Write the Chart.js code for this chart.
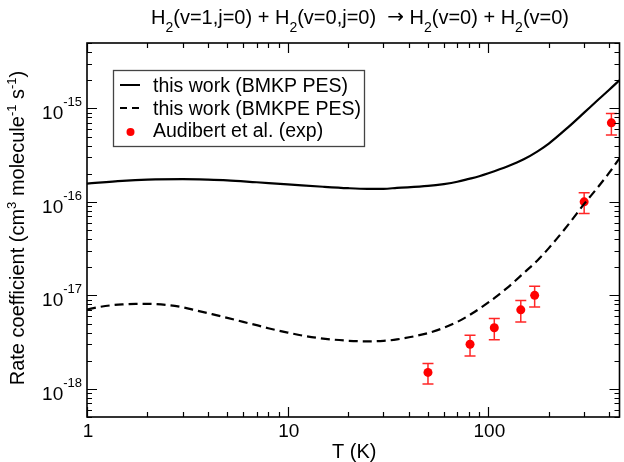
<!DOCTYPE html>
<html>
<head>
<meta charset="utf-8">
<script src="https://cdn.jsdelivr.net/npm/chart.js@4.4.1/dist/chart.umd.min.js"></script>
<style>
  body { margin: 0; background: #fff; }
  canvas { display: block; }
</style>
</head>
<body>
<canvas id="myChart" width="624" height="462"></canvas>
<script>
// Temperatures (K) and rate coefficients
var bmkpT = [1, 1.5, 2, 3, 4, 5, 7, 10, 15, 20, 25, 30, 35, 50, 60, 70, 80, 90, 100, 125, 150, 175, 200, 250, 300, 350, 400, 450];
var bmkpK = [1.57e-16, 1.68e-16, 1.73e-16, 1.75e-16, 1.73e-16, 1.70e-16, 1.62e-16, 1.54e-16, 1.45e-16, 1.40e-16, 1.38e-16, 1.38e-16, 1.41e-16,
             1.48e-16, 1.55e-16, 1.64e-16, 1.76e-16, 1.88e-16, 2.02e-16, 2.4e-16, 2.85e-16, 3.45e-16, 4.2e-16, 6.3e-16, 9.0e-16, 1.22e-15, 1.58e-15, 2.0e-15];

var bmkpeT = [1, 1.15, 1.3, 1.5, 1.75, 2, 2.5, 3, 3.5, 4, 5, 6, 7, 8, 10, 12, 15, 20, 25, 30, 35, 50, 60, 70, 80, 100, 125, 150, 175, 200, 250, 300, 350, 400, 450];
var bmkpeK = [7.05e-18, 7.5e-18, 7.8e-18, 8.0e-18, 8.1e-18, 8.1e-18, 7.9e-18, 7.45e-18, 6.9e-18, 6.45e-18, 5.75e-18, 5.2e-18, 4.8e-18, 4.45e-18, 4.0e-18,
              3.7e-18, 3.45e-18, 3.27e-18, 3.22e-18, 3.26e-18, 3.38e-18, 3.95e-18, 4.5e-18, 5.2e-18, 6.1e-18, 8.4e-18, 1.22e-17, 1.73e-17, 2.35e-17,
              3.2e-17, 5.7e-17, 9.5e-17, 1.42e-16, 2.05e-16, 2.92e-16];

// Experimental points (Audibert et al.) with their error bars
var expT = [50, 81, 107, 145, 170, 300, 410];
var expK = [1.5e-18, 3.0e-18, 4.5e-18, 7.0e-18, 1.0e-17, 1.0e-16, 7.0e-16];
var expErr = [0.37e-18, 0.75e-18, 1.15e-18, 1.8e-18, 2.5e-18, 2.5e-17, 1.8e-16];

// Axis limits and labelled ticks
var xMin = 1, xMax = 450;
var yMin = 5e-19, yMax = 5e-15;
var xTickLabels = ['1', '10', '100'];
var yTickExponents = ['-18', '-17', '-16', '-15'];

var legendLabels = ['this work (BMKP PES)', 'this work (BMKPE PES)', 'Audibert et al. (exp)'];

var FONT = '"Liberation Sans", Arial, Helvetica, sans-serif';
var ARROW_FONT = '"DejaVu Sans", sans-serif';

function toPoints(xs, ys) {
    return xs.map(function(x, i) { return {x: x, y: ys[i]}; });
}

// Draw a run of text pieces; kind 'sub' and 'sup' are smaller and shifted
function drawPieces(ctx, pieces, x, y, size, smallSize, supRise, subDrop, measureOnly) {
    var w = 0;
    pieces.forEach(function(p) {
        var dy = 0, s = size, fam = FONT;
        if (p[1] === 'sub') { s = smallSize; dy = subDrop; }
        if (p[1] === 'sup') { s = smallSize; dy = -supRise; }
        if (p[1] === 'arrow') { fam = ARROW_FONT; dy = -1; }
        ctx.font = s + 'px ' + fam;
        if (!measureOnly) ctx.fillText(p[0], x + w, y + dy);
        w += ctx.measureText(p[0]).width;
    });
    return w;
}

// Error bars go under the points
var errorBarPlugin = {
    id: 'errorBars',
    beforeDatasetsDraw: function(chart) {
        var ctx = chart.ctx, xs = chart.scales.x, ys = chart.scales.y;
        ctx.save();
        ctx.strokeStyle = 'rgba(255,0,0,0.85)';
        ctx.lineWidth = 1.5;
        expT.forEach(function(t, i) {
            var px = xs.getPixelForValue(t);
            var top = ys.getPixelForValue(expK[i] + expErr[i]);
            var bot = ys.getPixelForValue(expK[i] - expErr[i]);
            ctx.beginPath();
            ctx.moveTo(px, top); ctx.lineTo(px, bot);
            ctx.moveTo(px - 5.5, top); ctx.lineTo(px + 5.5, top);
            ctx.moveTo(px - 5.5, bot); ctx.lineTo(px + 5.5, bot);
            ctx.stroke();
        });
        ctx.restore();
    }
};

// Frame, inward ticks, tick labels, titles and legend
var decorPlugin = {
    id: 'decor',
    afterDraw: function(chart) {
        var ctx = chart.ctx, a = chart.chartArea, xs = chart.scales.x, ys = chart.scales.y;
        ctx.save();
        ctx.strokeStyle = '#000';
        ctx.fillStyle = '#000';

        // Frame
        ctx.lineWidth = 1.6;
        ctx.strokeRect(a.left, a.top, a.right - a.left, a.bottom - a.top);

        // X ticks on bottom and top
        ctx.lineWidth = 1.2;
        ctx.beginPath();
        for (var e = 0; e <= 2; e++) {
            for (var m = 1; m <= 9; m++) {
                var v = m * Math.pow(10, e);
                if (v < xMin || v > xMax) continue;
                var px = Math.round(xs.getPixelForValue(v)) + 0.5;
                var len = m === 1 ? 10 : 5;
                ctx.moveTo(px, a.bottom); ctx.lineTo(px, a.bottom - len);
                ctx.moveTo(px, a.top); ctx.lineTo(px, a.top + len);
            }
        }
        // Y ticks on left and right
        for (var ey = -19; ey <= -15; ey++) {
            for (var my = 1; my <= 9; my++) {
                var vy = my * Math.pow(10, ey);
                if (vy < yMin * 0.999 || vy > yMax * 1.001) continue;
                var py = Math.round(ys.getPixelForValue(vy)) + 0.5;
                var ylen = my === 1 ? 10 : 5;
                ctx.moveTo(a.left, py); ctx.lineTo(a.left + ylen, py);
                ctx.moveTo(a.right, py); ctx.lineTo(a.right - ylen, py);
            }
        }
        ctx.stroke();

        // X tick labels
        ctx.font = '19px ' + FONT;
        ctx.textAlign = 'center';
        ctx.textBaseline = 'alphabetic';
        xTickLabels.forEach(function(lbl) {
            ctx.fillText(lbl, xs.getPixelForValue(parseFloat(lbl)) + 1, a.bottom + 20);
        });

        // Y tick labels as 10 with a raised exponent
        ctx.textAlign = 'left';
        yTickExponents.forEach(function(ex) {
            var py = ys.getPixelForValue(Math.pow(10, parseFloat(ex)));
            var pieces = [['10', 'base'], [ex, 'sup']];
            var w = drawPieces(ctx, pieces, 0, 0, 19, 13, 13, 0, true);
            drawPieces(ctx, pieces, 82 - w, py + 11, 19, 13, 13, 0, false);
        });

        // Chart title with subscripts
        var titlePieces = [['H', 'base'], ['2', 'sub'], ['(v=1,j=0) + H', 'base'], ['2', 'sub'], ['(v=0,j=0)  ', 'base'], ['\u2192', 'arrow'],
                           [' H', 'base'], ['2', 'sub'], ['(v=0) + H', 'base'], ['2', 'sub'], ['(v=0)', 'base']];
        var tw = drawPieces(ctx, titlePieces, 0, 0, 20, 14, 0, 7.5, true);
        drawPieces(ctx, titlePieces, 360 - tw / 2, 24, 20, 14, 0, 7.5, false);

        // X axis title
        ctx.font = '20px ' + FONT;
        ctx.textAlign = 'center';
        ctx.fillText('T (K)', (a.left + a.right) / 2 + 1, 458);

        // Y axis title, rotated
        ctx.textAlign = 'left';
        var yPieces = [['Rate coefficient (cm', 'base'], ['3', 'sup'], [' molecule', 'base'], ['-1', 'sup'], [' s', 'base'], ['-1', 'sup'], [')', 'base']];
        var yw = drawPieces(ctx, yPieces, 0, 0, 20, 13, 8.5, 0, true);
        ctx.save();
        ctx.translate(24, 228);
        ctx.rotate(-Math.PI / 2);
        drawPieces(ctx, yPieces, -yw / 2, 0, 20, 13, 8.5, 0, false);
        ctx.restore();

        // Legend box
        ctx.strokeStyle = '#444';
        ctx.lineWidth = 1.3;
        ctx.strokeRect(113.5, 70.5, 251, 76);
        var rows = [85, 108, 130];
        ctx.strokeStyle = '#000';
        ctx.lineWidth = 2;
        ctx.beginPath();
        ctx.moveTo(120, rows[0]); ctx.lineTo(140, rows[0]);
        ctx.stroke();
        ctx.setLineDash([7, 5]);
        ctx.beginPath();
        ctx.moveTo(120, rows[1]); ctx.lineTo(139, rows[1]);
        ctx.stroke();
        ctx.setLineDash([]);
        ctx.fillStyle = 'red';
        ctx.beginPath();
        ctx.arc(130.5, rows[2] + 2, 4, 0, Math.PI * 2);
        ctx.fill();
        ctx.fillStyle = '#000';
        ctx.font = '19.5px ' + FONT;
        legendLabels.forEach(function(lbl, i) {
            ctx.fillText(lbl, 153, rows[i] + 7);
        });

        ctx.restore();
    }
};

var ctx = document.getElementById('myChart').getContext('2d');

var myChart = new Chart(ctx, {
    type: 'scatter',
    data: {
        datasets: [
            {
                label: legendLabels[0],
                data: toPoints(bmkpT, bmkpK),
                showLine: true,
                borderColor: '#000',
                borderWidth: 2.2,
                pointRadius: 0,
                cubicInterpolationMode: 'monotone'
            },
            {
                label: legendLabels[1],
                data: toPoints(bmkpeT, bmkpeK),
                showLine: true,
                borderColor: '#000',
                borderWidth: 2.2,
                borderDash: [9, 5],
                pointRadius: 0,
                cubicInterpolationMode: 'monotone'
            },
            {
                label: legendLabels[2],
                data: toPoints(expT, expK),
                showLine: false,
                backgroundColor: 'red',
                borderWidth: 0,
                pointRadius: 4.5
            }
        ]
    },
    options: {
        responsive: false,
        animation: false,
        devicePixelRatio: 1,
        layout: {
            padding: {left: 87, right: 2, top: 43, bottom: 45}
        },
        scales: {
            x: {type: 'logarithmic', min: xMin, max: xMax, display: false},
            y: {type: 'logarithmic', min: yMin, max: yMax, display: false}
        },
        plugins: {
            legend: {display: false},
            tooltip: {enabled: false}
        }
    },
    plugins: [errorBarPlugin, decorPlugin]
});
</script>
</body>
</html>
